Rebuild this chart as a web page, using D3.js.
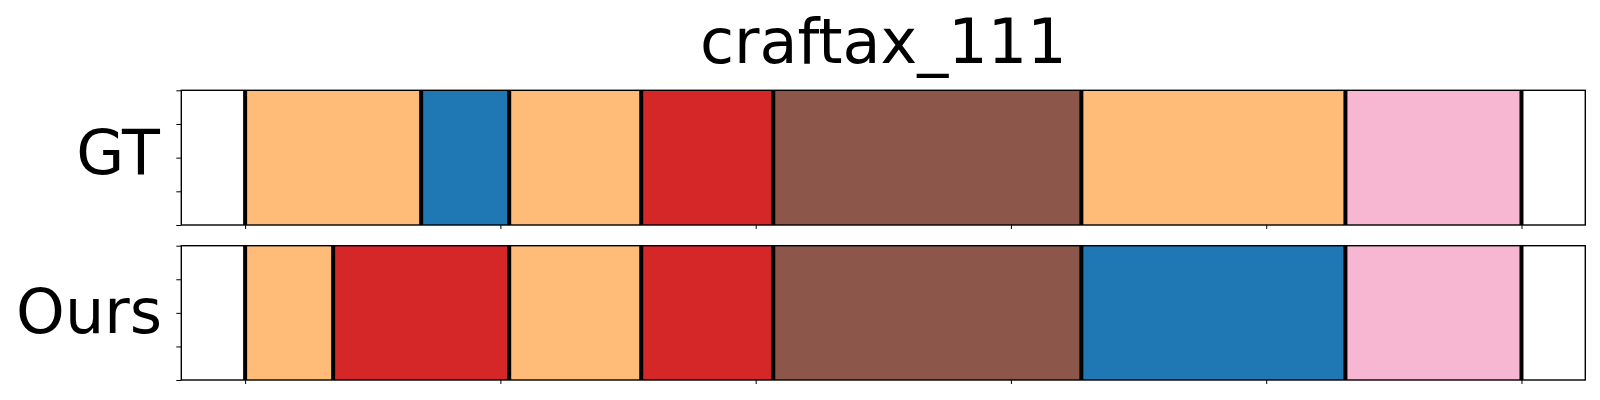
<!DOCTYPE html>
<html>
<head>
<meta charset="utf-8">
<script src="https://cdn.jsdelivr.net/npm/d3@7"></script>
<style>
  html, body { margin: 0; padding: 0; background: #fff; }
  svg { display: block; }
  text { font-family: "DejaVu Sans", sans-serif; fill: #000; }
</style>
</head>
<body>
<svg id="chart" width="1600" height="400"></svg>
<script>
// ---- data ----
const title = "craftax_111";
const rowLabels = ["GT", "Ours"];
const totalLength = 29;
const classColors = ["#1f77b4", "#ffbb78", "#d62728", "#8c564b", "#f7b6d2"];

const gtStarts   = [0, 4, 6, 9, 12, 19, 25];
const gtEnds     = [4, 6, 9, 12, 19, 25, 29];
const gtClasses  = [1, 0, 1, 2, 3, 1, 4];

const oursStarts  = [0, 2, 6, 9, 12, 19, 25];
const oursEnds    = [2, 6, 9, 12, 19, 25, 29];
const oursClasses = [1, 2, 1, 2, 3, 0, 4];

const xTickValues = d3.range(6).map(i => i * totalLength / 5);
const yTickValues = [0, 0.25, 0.5, 0.75, 1];

// ---- layout ----
const svg = d3.select("#chart");
const left = 181.3, right = 1585.3;
const panels = [
  { top: 90.3,  bottom: 225, starts: gtStarts, ends: gtEnds, classes: gtClasses, labelX: 160, labelY: 174 },
  { top: 245.7, bottom: 380, starts: oursStarts, ends: oursEnds, classes: oursClasses, labelX: 162, labelY: 333 }
];

const pad = 0.05 * totalLength;
const x = d3.scaleLinear().domain([-pad, totalLength + pad]).range([left, right]);

svg.append("text")
  .attr("x", (left + right) / 2)
  .attr("y", 63.3)
  .attr("text-anchor", "middle")
  .style("font-size", "62px")
  .text(title);

panels.forEach((p, pi) => {
  const y = d3.scaleLinear().domain([0, 1]).range([p.bottom, p.top]);
  const g = svg.append("g");
  const segs = p.starts.map((s, i) => ({ s, e: p.ends[i], c: p.classes[i] }));

  g.selectAll("rect.seg").data(segs).join("rect")
    .attr("class", "seg")
    .attr("x", d => x(d.s))
    .attr("y", y(1))
    .attr("width", d => x(d.e) - x(d.s))
    .attr("height", y(0) - y(1))
    .attr("fill", d => classColors[d.c]);

  const bounds = Array.from(new Set(p.starts.concat(p.ends)));
  g.selectAll("line.bound").data(bounds).join("line")
    .attr("class", "bound")
    .attr("x1", d => x(d)).attr("x2", d => x(d))
    .attr("y1", y(1)).attr("y2", y(0))
    .attr("stroke", "#000")
    .attr("stroke-width", 4);

  // axes
  const xAxis = d3.axisBottom(x).tickValues(xTickValues).tickFormat("").tickSize(4).tickSizeOuter(0);
  const gx = svg.append("g").attr("transform", `translate(0,${p.bottom})`).call(xAxis);
  gx.select(".domain").remove();
  gx.selectAll(".tick line").attr("stroke", "#000").attr("stroke-width", 1);

  const yAxis = d3.axisLeft(y).tickValues(yTickValues).tickFormat("").tickSize(5).tickSizeOuter(0);
  const gy = svg.append("g").attr("transform", `translate(${left},0)`).call(yAxis);
  gy.select(".domain").remove();
  gy.selectAll(".tick line").attr("stroke", "#000").attr("stroke-width", 1);

  // frame
  svg.append("rect")
    .attr("x", left).attr("y", p.top)
    .attr("width", right - left).attr("height", p.bottom - p.top)
    .attr("fill", "none").attr("stroke", "#000").attr("stroke-width", 1.4);

  svg.append("text")
    .attr("x", p.labelX)
    .attr("y", p.labelY)
    .attr("text-anchor", "end")
    .style("font-size", "62px")
    .text(rowLabels[pi]);
});
</script>
</body>
</html>
